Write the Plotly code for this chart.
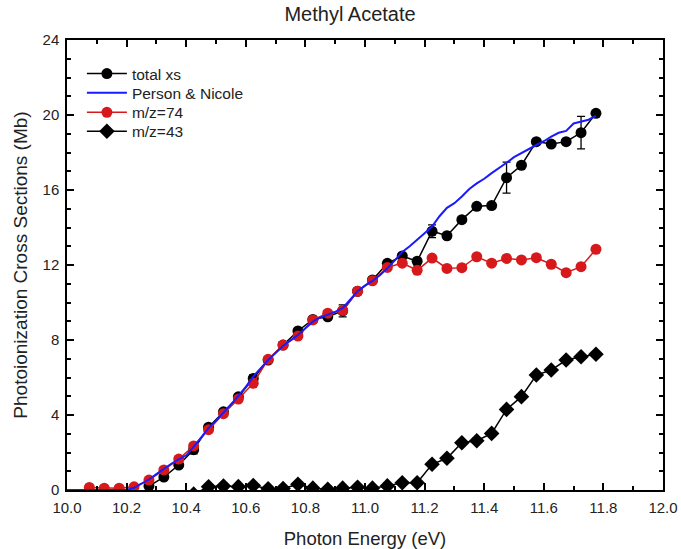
import numpy as np
import plotly.graph_objects as go

# Photon energies (eV) of the measured points
energy_total = [10.275, 10.325, 10.375, 10.425, 10.475, 10.525, 10.575, 10.625, 10.675, 10.725,
                10.775, 10.825, 10.875, 10.925, 10.975, 11.025, 11.075, 11.125, 11.175, 11.225,
                11.275, 11.325, 11.375, 11.425, 11.475, 11.525, 11.575, 11.625, 11.675, 11.725,
                11.775]
total_xs = [0.21, 0.69, 1.33, 2.15, 3.35, 4.17, 4.97, 5.95, 6.93, 7.73,
            8.48, 9.10, 9.24, 9.55, 10.60, 11.20, 12.09, 12.48, 12.20, 13.80,
            13.56, 14.42, 15.13, 15.17, 16.66, 17.32, 18.58, 18.45, 18.58, 19.06,
            20.09]
total_err = [0.20, None, None, 0.22, None, None, None, 0.20, None, None,
             None, None, None, 0.32, None, None, None, None, None, 0.34,
             None, None, None, None, 0.83, None, None, None, None, 0.87,
             None]

energy_74 = [10.075, 10.125, 10.175, 10.225, 10.275, 10.325, 10.375, 10.425, 10.475, 10.525,
             10.575, 10.625, 10.675, 10.725, 10.775, 10.825, 10.875, 10.925, 10.975, 11.025,
             11.075, 11.125, 11.175, 11.225, 11.275, 11.325, 11.375, 11.425, 11.475, 11.525,
             11.575, 11.625, 11.675, 11.725, 11.775]
mz74 = [0.14, 0.10, 0.10, 0.17, 0.53, 1.07, 1.65, 2.35, 3.22, 4.07,
        4.85, 5.69, 6.97, 7.73, 8.21, 9.07, 9.43, 9.58, 10.60, 11.16,
        11.87, 12.10, 11.72, 12.37, 11.82, 11.86, 12.44, 12.10, 12.35, 12.27,
        12.39, 12.04, 11.59, 11.91, 12.84]

energy_43 = [10.425, 10.475, 10.525, 10.575, 10.625, 10.675, 10.725, 10.775, 10.825, 10.875,
             10.925, 10.975, 11.025, 11.075, 11.125, 11.175, 11.225, 11.275, 11.325, 11.375,
             11.425, 11.475, 11.525, 11.575, 11.625, 11.675, 11.725, 11.775]
mz43 = [-0.22, 0.17, 0.21, 0.18, 0.24, 0.07, 0.08, 0.31, 0.10, 0.04,
        0.10, 0.15, 0.10, 0.22, 0.39, 0.39, 1.37, 1.69, 2.52, 2.63,
        3.02, 4.30, 4.98, 6.13, 6.40, 6.93, 7.11, 7.24]

energy_pn = [10.0, 10.1, 10.2, 10.225, 10.25, 10.275, 10.3, 10.325, 10.35, 10.375,
             10.4, 10.425, 10.45, 10.475, 10.5, 10.525, 10.55, 10.575, 10.6, 10.625,
             10.65, 10.675, 10.7, 10.725, 10.75, 10.775, 10.8, 10.825, 10.85, 10.875,
             10.9, 10.925, 10.95, 10.975, 11.0, 11.025, 11.05, 11.075, 11.1, 11.125,
             11.15, 11.175, 11.2, 11.225, 11.25, 11.275, 11.3, 11.325, 11.35, 11.375,
             11.4, 11.425, 11.45, 11.475, 11.5, 11.525, 11.55, 11.575, 11.6, 11.625,
             11.65, 11.675, 11.7, 11.725, 11.75, 11.775]
person_nicole = [0.0, 0.0, 0.0, 0.12, 0.33, 0.56, 0.85, 1.15, 1.40, 1.63,
                 1.85, 2.30, 2.80, 3.30, 3.70, 4.10, 4.55, 5.02, 5.50, 6.05,
                 6.50, 6.93, 7.30, 7.68, 7.98, 8.27, 8.63, 8.98, 9.20, 9.35,
                 9.50, 9.70, 10.15, 10.60, 10.90, 11.15, 11.45, 11.82, 12.25, 12.70,
                 13.00, 13.33, 13.70, 14.05, 14.60, 15.05, 15.30, 15.65, 16.05, 16.35,
                 16.60, 16.90, 17.20, 17.45, 17.75, 17.98, 18.20, 18.40, 18.60, 18.85,
                 19.05, 19.15, 19.55, 19.65, 19.75, 19.95]

x_ticks = [10.0, 10.2, 10.4, 10.6, 10.8, 11.0, 11.2, 11.4, 11.6, 11.8, 12.0]
y_ticks = [0, 4, 8, 12, 16, 20, 24]

FONT = "Liberation Sans, Arial, sans-serif"
TEXT = "#222"
RED = "#d7191c"
BLUE = "#1a1aff"

fig = go.Figure()

fig.add_trace(go.Scatter(
    x=energy_total, y=total_xs, name="total xs", mode="lines+markers",
    line=dict(color="black", width=1.5),
    marker=dict(symbol="circle", size=11, color="black"),
    error_y=dict(type="data", array=[np.nan if e is None else e for e in total_err],
                 visible=True, color="black", thickness=1.3, width=4),
    legend="legend",
))
fig.add_trace(go.Scatter(
    x=energy_74, y=mz74, name="m/z=74", mode="lines+markers",
    line=dict(color=RED, width=1.5),
    marker=dict(symbol="circle", size=11, color=RED),
    legend="legend3",
))
fig.add_trace(go.Scatter(
    x=energy_43, y=mz43, name="m/z=43", mode="lines+markers",
    line=dict(color="black", width=1.5),
    marker=dict(symbol="diamond", size=12, color="black"),
    legend="legend4",
))
fig.add_trace(go.Scatter(
    x=energy_pn, y=person_nicole, name="Person & Nicole", mode="lines",
    line=dict(color=BLUE, width=2),
    legend="legend2",
))

axis_common = dict(
    showline=True, linecolor="black", linewidth=1.5, mirror="ticks",
    ticks="inside", ticklen=7, tickwidth=1.5, tickcolor="black",
    showgrid=False, zeroline=False, automargin=False,
    tickfont=dict(family=FONT, size=15, color=TEXT),
)

fig.update_xaxes(
    range=[10.0, 12.0], tickvals=x_ticks, ticktext=[f"{v:.1f}" for v in x_ticks],
    ticklabelstandoff=3,
    minor=dict(dtick=0.1, tick0=10.0, ticks="inside", ticklen=4, tickwidth=1.5, tickcolor="black"),
    title=dict(text="Photon Energy (eV)", font=dict(family=FONT, size=18.5, color=TEXT), standoff=20),
    **axis_common,
)
fig.update_yaxes(
    range=[0, 24], tickvals=y_ticks,
    ticklabelstandoff=3,
    minor=dict(dtick=1, tick0=0, ticks="inside", ticklen=4, tickwidth=1.5, tickcolor="black"),
    title=dict(text="Photoionization Cross Sections (Mb)", font=dict(family=FONT, size=19, color=TEXT), standoff=10),
    **axis_common,
)

# One single-entry legend per series, stacked in the upper-left corner
legend_style = dict(x=0.025, xanchor="left", yanchor="middle", bgcolor="rgba(0,0,0,0)",
                    font=dict(family=FONT, size=15.5, color=TEXT), itemwidth=40)

fig.update_layout(
    width=681, height=549,
    margin=dict(l=67, r=18, t=40, b=59),
    paper_bgcolor="white", plot_bgcolor="white",
    title=dict(text="Methyl Acetate", x=0.514, xanchor="center", y=0.975, yanchor="middle",
               font=dict(family=FONT, size=20, color=TEXT)),
    legend=dict(y=0.9244, **legend_style),
    legend2=dict(y=0.8816, **legend_style),
    legend3=dict(y=0.8384, **legend_style),
    legend4=dict(y=0.7962, **legend_style),
    showlegend=True,
)

fig.write_html("out.html")
